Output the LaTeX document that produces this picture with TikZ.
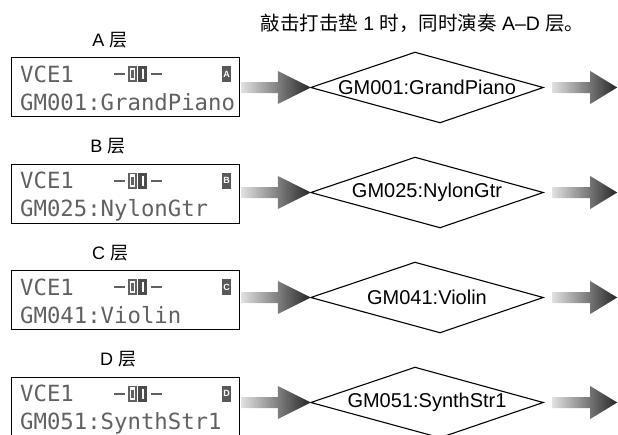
\documentclass[tikz,border=0pt]{standalone}
\usepackage{fontspec}
\setmainfont{Liberation Sans}
\newfontfamily\cjk{Noto Sans CJK SC}
\newfontfamily\lcdfont{DejaVu Sans Mono}
\usetikzlibrary{calc}
\tikzset{
  lcdbox/.style={draw, line width=1.3pt, minimum width=228pt, minimum height=59pt, inner sep=0pt, anchor=north west},
  lcdtext/.style={font=\lcdfont\fontsize{22.3}{24}\selectfont, text=black!62, inner sep=0pt, anchor=base west},
  diabox/.style={shape=rectangle, minimum width=232pt, minimum height=70pt, inner sep=0pt, font=\fontsize{20}{21}\selectfont},
  diaedge/.style={line width=1.1pt, line join=miter},
  lab/.style={inner sep=0pt, font=\fontsize{18}{20}\selectfont},
  icontext/.style={inner sep=0pt, text=white, font=\fontsize{9}{9}\selectfont\bfseries},
}
\newcommand\gradarrow[3]{%
  \shade[left color=black!12, right color=black!85]
    ($(#1)+(0,-5.5)$) -- ($(#2)+(-#3,-5.5)$) -- ($(#2)+(-#3,-16.5)$) -- (#2)
    -- ($(#2)+(-#3,16.5)$) -- ($(#2)+(-#3,5.5)$) -- ($(#1)+(0,5.5)$) -- cycle;}
\newcommand\lcdrow[6]{% name, top y, label x, label letter, line2, icon letter
  \node[lab] (lab#1) at (#3,#2-17) {#4~{\cjk 层}};
  \node[lcdbox] (lcd#1) at (11,#2) {};
  \node[lcdtext] (top#1) at ($(lcd#1.north west)+(9,25)$) {VCE1};
  \node[lcdtext] (bot#1) at ($(lcd#1.north west)+(9,53)$) {#5};
  \fill[black!62] ($(lcd#1.north west)+(103,16)$) rectangle +(11,2.4);
  \draw[black!62, line width=1.6pt] ($(lcd#1.north west)+(117.8,9.8)$) rectangle +(7.4,14.4);
  \fill[black!62] ($(lcd#1.north west)+(120,13)$) rectangle +(3,8);
  \fill[black!70] ($(lcd#1.north west)+(127,9)$) rectangle +(9,16);
  \fill[white] ($(lcd#1.north west)+(131,12)$) rectangle +(1.6,10);
  \fill[black!62] ($(lcd#1.north west)+(140,16)$) rectangle +(11,2.4);
  \fill[black!65] ($(lcd#1.north west)+(211,9)$) rectangle +(9,16);
  \node[icontext] (icon#1) at ($(lcd#1.north west)+(215.5,17)$) {#6};
}
\newcommand\diarow[3]{% name, centre y, text
  \node[diabox] (dia#1) at (427,#2) {#3};
  \draw[diaedge] (dia#1.west) -- ($(dia#1.north)+(-12,0)$) -- (dia#1.east) -- ($(dia#1.south)+(13,0)$) -- cycle;
  \coordinate (ls#1) at ($(lcd#1.east |- dia#1.west)+(1,0)$);
  \gradarrow{ls#1}{dia#1.west}{33}
  \coordinate (rs#1) at ($(dia#1.east)+(9,0)$);
  \coordinate (end#1) at ($(dia#1.east)+(74,0)$);
  \gradarrow{rs#1}{end#1}{27}
}
\begin{document}
\begin{tikzpicture}[x=1pt,y=-1pt]
\useasboundingbox (0,0) rectangle (618,434);
\node[inner sep=0pt, font=\fontsize{19.5}{21}\selectfont] (title) at (422.5,23)
  {{\cjk 敲击打击垫}~1~{\cjk 时，同时演奏}~A–D~{\cjk 层。}};
\lcdrow{A}{57}{110}{A}{GM001:GrandPiano}{A}
\lcdrow{B}{163.5}{108}{B}{GM025:NylonGtr}{B}
\lcdrow{C}{270}{110}{C}{GM041:Violin}{C}
\lcdrow{D}{376.5}{118}{D}{GM051:SynthStr1}{D}
\diarow{A}{87.5}{GM001:GrandPiano}
\diarow{B}{192.5}{GM025:NylonGtr}
\diarow{C}{297.5}{GM041:Violin}
\diarow{D}{402.5}{GM051:SynthStr1}
\end{tikzpicture}
\end{document}
